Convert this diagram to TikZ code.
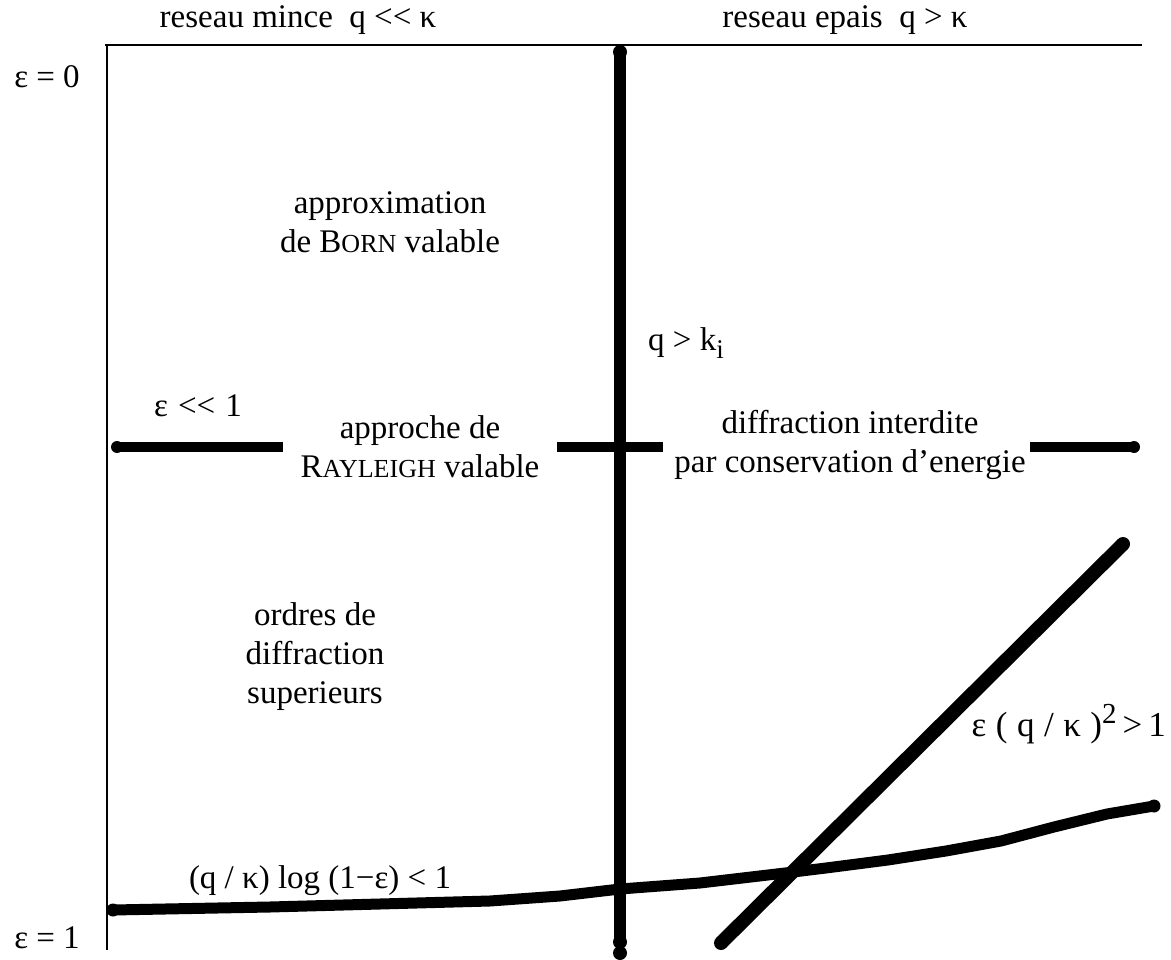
\documentclass[tikz,border=0pt]{standalone}
\usepackage{fontspec}
\setmainfont{Liberation Serif}[Ligatures=TeXOff]
\newcommand{\smc}[1]{{\fontsize{26}{26}\selectfont #1}}
\newcommand{\wsp}{\hspace{9.5pt}}
\begin{document}
\begin{tikzpicture}[x=1pt,y=-1pt,
  thinline/.style={line width=1.6pt},
  heavy/.style={line width=#1, line cap=butt, line join=round},
  blob/.style={circle,fill,inner sep=0pt,minimum size=14pt},
  lbl/.style={font=\fontsize{33}{39}\selectfont, inner sep=0pt, anchor=base, align=center},
]
\useasboundingbox (0,0) rectangle (1171,960);

% frame
\coordinate (tl) at (105,45);
\coordinate (tr) at (1142,45);
\coordinate (lt) at (107,45);
\coordinate (lb) at (107,950);
\draw[thinline] (tl) -- (tr);
\draw[thinline] (lt) -- (lb);

% vertical thick line
\node[blob] (vtop) at (620,52) {};
\node[blob] (vbot) at (620,942) {};
\node[blob] (vbot2) at (620,953) {};
\draw[heavy=12pt] (vtop.center) -- (vbot.center);

% horizontal thick segments
\node[blob,minimum size=12pt] (hl) at (117,447) {};
\coordinate (hlr) at (283,447);
\coordinate (hml) at (557,447);
\coordinate (hmr) at (663,447);
\coordinate (hrl) at (1030,447);
\node[blob,minimum size=12pt] (hr) at (1134,447) {};
\draw[heavy=10pt] (hl.center) -- (hlr);
\draw[heavy=10pt] (hml) -- (hmr);
\draw[heavy=10pt] (hrl) -- (hr.center);

% diagonal
\node[blob] (dtop) at (1123,544) {};
\node[blob] (dbot) at (721,943) {};
\draw[heavy=14pt] (dbot.center) -- (dtop.center);

% bottom curve
\node[blob,minimum size=13pt] (cs) at (113,910) {};
\node[blob,minimum size=13pt] (ce) at (1154,806) {};
\draw[heavy=11pt] (cs.center) -- (270,907) -- (490,901) -- (560,896) -- (620,889)
  -- (700,883) -- (785,873) -- (826,868) -- (888,860) -- (946,851) -- (1001,841)
  -- (1054,827) -- (1107,814) -- (ce.center);

% labels
\node[lbl] (h1) at (298,28) {reseau mince\ \ q <{}< κ};
\node[lbl] (h2) at (845,28) {reseau epais\ \ q > κ};
\node[lbl] (e0) at (47,88) {ε = 0};
\node[lbl] (e1) at (47,948) {ε = 1};
\node[lbl] (born) at (390,253) {approximation\\de B\smc{ORN} valable};
\node[lbl,anchor=base west] (qk) at (648,350) {q > k\raisebox{-8pt}{\fontsize{27}{27}\selectfont i}};
\node[lbl] (ell) at (198,416) {ε\hspace{10pt}<{}<\hspace{10pt}1};
\node[lbl] (ray) at (420,477) {approche de\\R\smc{AYLEIGH} valable};
\node[lbl] (dif) at (850,472) {diffraction interdite\\par conservation d’energie};
\node[lbl] (ord) at (315,703) {ordres de\\diffraction\\superieurs};
\node[lbl] (log) at (320,888) {(q / κ)\ log (1−ε) < 1};
\node[lbl,anchor=base east,font=\fontsize{35}{40}\selectfont] (sq) at (1166,736) {ε\wsp(\wsp q\wsp/\wsp κ\wsp)\raisebox{13pt}{\fontsize{29}{29}\selectfont 2}\hspace{6pt}>\hspace{6pt}1};
\end{tikzpicture}
\end{document}
